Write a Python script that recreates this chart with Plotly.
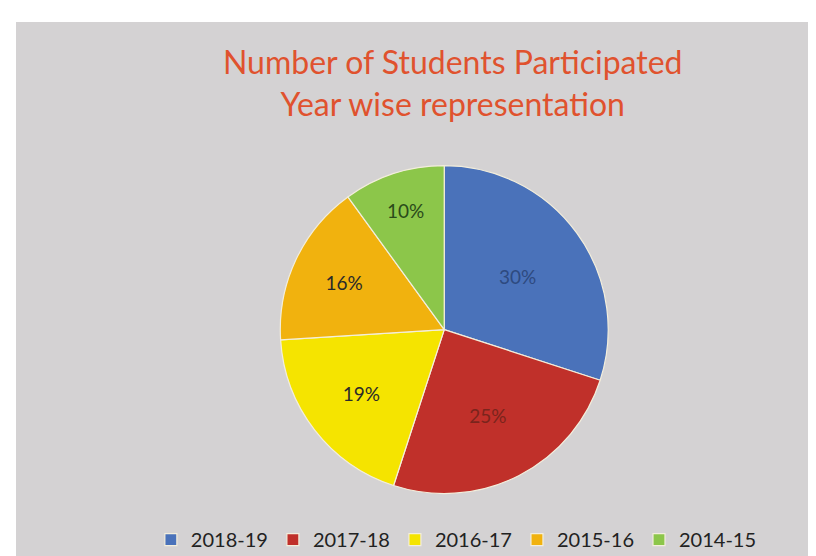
import plotly.graph_objects as go

years = ["2018-19", "2017-18", "2016-17", "2015-16", "2014-15"]
shares = [30, 25, 19, 16, 10]
colors = ["#4A72BA", "#C0302A", "#F5E400", "#F1B20E", "#8CC64A"]
label_colors = ["#2E4A80", "#7A241C", "#2A2A2A", "#2A2A2A", "#2A4A1A"]

W, H = 816, 556
ml, mr, mt, mb = 8, 0, 14, 0

fig = go.Figure()
fig.add_trace(go.Pie(
    labels=years,
    values=shares,
    sort=False,
    direction="clockwise",
    rotation=0,
    marker=dict(colors=colors, line=dict(color="#F3EEDC", width=1.2)),
    textinfo="percent",
    texttemplate="%{value}%",
    textposition="inside",
    insidetextorientation="horizontal",
    textfont=dict(family="Lato, Open Sans, sans-serif", size=19, color=label_colors),
    domain=dict(x=[0.14, 0.92], y=[0.13, 0.735]),
    hoverinfo="label+percent",
))

fig.update_layout(
    width=W, height=H,
    margin=dict(l=ml, r=mr, t=mt, b=mb),
    paper_bgcolor="white",
    shapes=[dict(type="rect", xref="paper", yref="paper", x0=0, x1=1, y0=0, y1=1,
                 fillcolor="#D4D2D3", line=dict(width=0), layer="below")],
    title=dict(
        text="Number of Students Participated<br>Year wise representation",
        x=0.545, xanchor="center", y=1 - 66 / H, yanchor="top",
        font=dict(family="Lato, Open Sans, sans-serif", size=32, color="#E0522E"),
        pad=dict(t=0),
    ),
    legend=dict(
        orientation="h", x=0.545, xanchor="center", y=0.045, yanchor="middle",
        font=dict(family="Lato, Open Sans, sans-serif", size=20, color="#222222"),
        bgcolor="rgba(0,0,0,0)", itemwidth=30, traceorder="normal",
    ),
    showlegend=True,
)

fig.write_html("out.html")
